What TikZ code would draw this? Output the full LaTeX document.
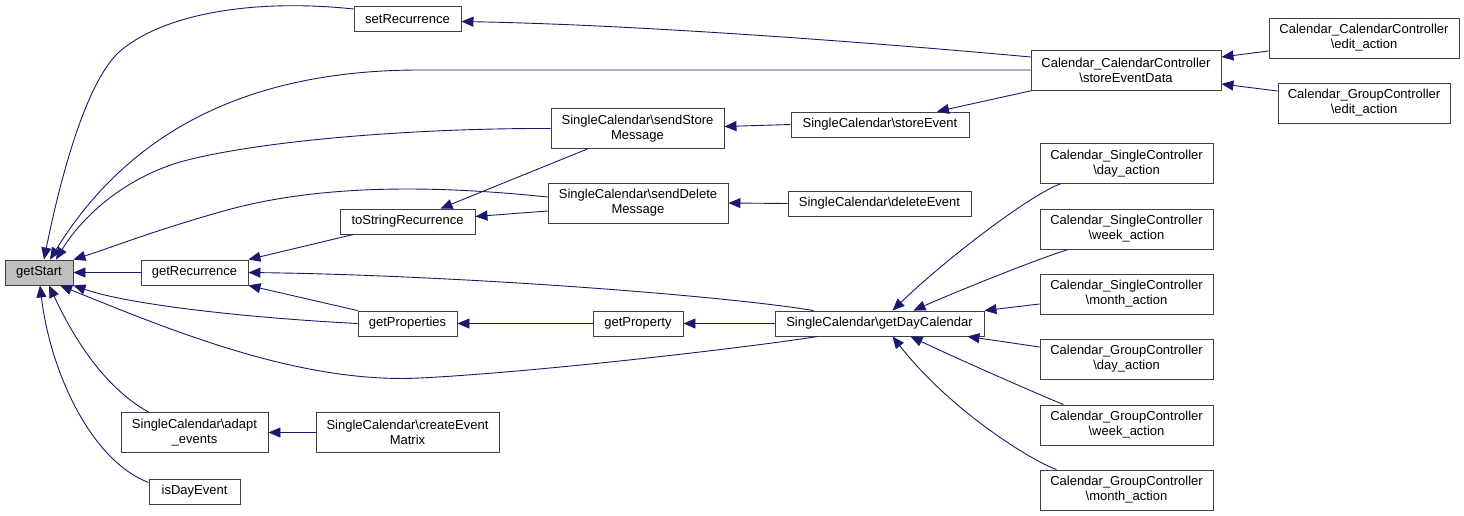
\documentclass[tikz,border=0pt]{standalone}
\usepackage{fontspec}
\setmainfont{Liberation Sans}
\usetikzlibrary{arrows.meta,calc}
\definecolor{edgeblue}{HTML}{191970}
\definecolor{boxline}{HTML}{404040}
\definecolor{rootfill}{HTML}{BFBFBF}
\newcommand{\bs}{\textbackslash}
\begin{document}
\begin{tikzpicture}[x=1pt,y=-1pt,
  box/.style={draw=boxline,line width=0.9pt,fill=white,inner sep=0pt,align=center,
    font=\fontsize{13}{15}\selectfont,minimum height=25pt},
  tall/.style={minimum height=40pt},
  root/.style={fill=rootfill},
  call/.style={draw=edgeblue,line width=0.9pt,-{Triangle[length=12pt,width=10pt]}}]
\useasboundingbox[fill=white] (0,0) rectangle (1464,516);
% nodes
\node[box,root,minimum width=68pt] (gs) at (39,272.5) {getStart};
\node[box,minimum width=107pt] (gr) at (194.5,272.5) {getRecurrence};
\node[box,minimum width=107pt] (sr) at (407.5,19) {setRecurrence};
\node[box,minimum width=135pt] (tsr) at (407.5,221.5) {toStringRecurrence};
\node[box,minimum width=99pt] (gps) at (407.5,323.5) {getProperties};
\node[box,tall,minimum width=147pt] (ae) at (194.5,432.5) {SingleCalendar\bs adapt\\\_events};
\node[box,tall,minimum width=183pt] (cem) at (407.5,432.5) {SingleCalendar\bs createEvent\\Matrix};
\node[box,minimum width=91pt] (ide) at (194.5,491.5) {isDayEvent};
\node[box,tall,minimum width=173pt] (ssm) at (637.5,128.5) {SingleCalendar\bs sendStore\\Message};
\node[box,tall,minimum width=180pt] (sdm) at (638,203) {SingleCalendar\bs sendDelete\\Message};
\node[box,minimum width=90pt] (gpy) at (638,323.5) {getProperty};
\node[box,minimum width=178pt] (se) at (880,124.5) {SingleCalendar\bs storeEvent};
\node[box,minimum width=183pt] (de) at (879.5,203.5) {SingleCalendar\bs deleteEvent};
\node[box,minimum width=209pt] (gdc) at (879.5,323.5) {SingleCalendar\bs getDayCalendar};
\node[box,tall,minimum width=190pt] (sed) at (1126,70) {Calendar\_CalendarController\\\bs storeEventData};
\node[box,tall,minimum width=190pt] (cce) at (1364,38) {Calendar\_CalendarController\\\bs edit\_action};
\node[box,tall,minimum width=172pt] (gce) at (1364,103) {Calendar\_GroupController\\\bs edit\_action};
\node[box,tall,minimum width=173pt] (scd) at (1126.5,163.5) {Calendar\_SingleController\\\bs day\_action};
\node[box,tall,minimum width=173pt] (scw) at (1126.5,229) {Calendar\_SingleController\\\bs week\_action};
\node[box,tall,minimum width=173pt] (scm) at (1126.5,294) {Calendar\_SingleController\\\bs month\_action};
\node[box,tall,minimum width=173pt] (gcd) at (1126.5,359) {Calendar\_GroupController\\\bs day\_action};
\node[box,tall,minimum width=173pt] (gcw) at (1126.5,425) {Calendar\_GroupController\\\bs week\_action};
\node[box,tall,minimum width=173pt] (gcm) at (1126.5,490) {Calendar\_GroupController\\\bs month\_action};
% edges into getStart
\draw[call] ($(sr.west)+(0,-10)$) .. controls (250,-2) and (160,15) .. (118,53)
   .. controls (85,85) and (60,180) .. ($(gs.north)+(5,0)$);
\draw[call] (sed.west) -- (420,70) .. controls (250,70) and (130,130) .. ($(gs.north)+(11,0)$);
\draw[call] (ssm.west) .. controls (420,128) and (260,140) .. (180,162)
   .. controls (120,180) and (80,220) .. ($(gs.north)+(17,0)$);
\draw[call] ($(sdm.west)+(0,-6)$) .. controls (460,188) and (330,180) .. (220,212)
   .. controls (150,232) and (110,248) .. (gs.north east);
\draw[call] (gr.west) -- (gs.east);
\draw[call] (gps.west) .. controls (250,318) and (130,305) .. (gs.south east);
\draw[call] ($(gdc.south)+(-62,0)$) .. controls (760,346) and (540,372) .. (420,378)
   .. controls (300,384) and (170,330) .. ($(gs.south)+(21,0)$);
\draw[call] ($(ae.north)+(-46,0)$) .. controls (100,385) and (70,330) .. ($(gs.south)+(10,0)$);
\draw[call] ($(ide.west)+(0,-9)$) .. controls (90,460) and (50,370) .. ($(gs.south)+(1,0)$);
% edges into getRecurrence
\draw[call] ($(tsr.south)+(-54,0)$) -- (gr.north east);
\draw[call] (gps.north west) -- (gr.south east);
\draw[call] ($(gdc.north)+(-66,0)$) .. controls (720,295) and (450,275) .. (gr.east);
% edges into toStringRecurrence
\draw[call] ($(ssm.south)+(-50,0)$) -- ($(tsr.north)+(33,0)$);
\draw[call] ($(sdm.west)+(0,8)$) -- ($(tsr.east)+(0,-5)$);
% other edges
\draw[call] (se.west) -- ($(ssm.east)+(0,-2)$);
\draw[call] (de.west) -- (sdm.east);
\draw[call] ($(sed.west)+(0,-13)$) .. controls (900,45) and (650,25) .. ($(sr.east)+(0,2.5)$);
\draw[call] ($(sed.south west)+(2,0)$) -- ($(se.north)+(57,0)$);
\draw[call] ($(cce.west)+(0,13)$) -- ($(sed.east)+(0,-13)$);
\draw[call] ($(gce.west)+(0,-12)$) -- ($(sed.east)+(0,14)$);
\draw[call] (gpy.west) -- (gps.east);
\draw[call] (gdc.west) -- (gpy.east);
\draw[call] ($(scd.south)+(-66,0)$) .. controls (1035,192) and (950,255) .. ($(gdc.north)+(13,0)$);
\draw[call] ($(scw.south)+(-58,0)$) .. controls (1040,258) and (960,290) .. ($(gdc.north)+(34,0)$);
\draw[call] ($(scm.west)+(0,10)$) -- (gdc.north east);
\draw[call] ($(gcd.west)+(0,-12)$) -- ($(gdc.south east)+(-17,0)$);
\draw[call] ($(gcw.north)+(-63,0)$) .. controls (1040,395) and (960,360) .. ($(gdc.south)+(31,0)$);
\draw[call] ($(gcm.north)+(-70,0)$) .. controls (1030,460) and (950,410) .. ($(gdc.south)+(13,0)$);
\draw[call] (cem.west) -- (ae.east);
\end{tikzpicture}
\end{document}
